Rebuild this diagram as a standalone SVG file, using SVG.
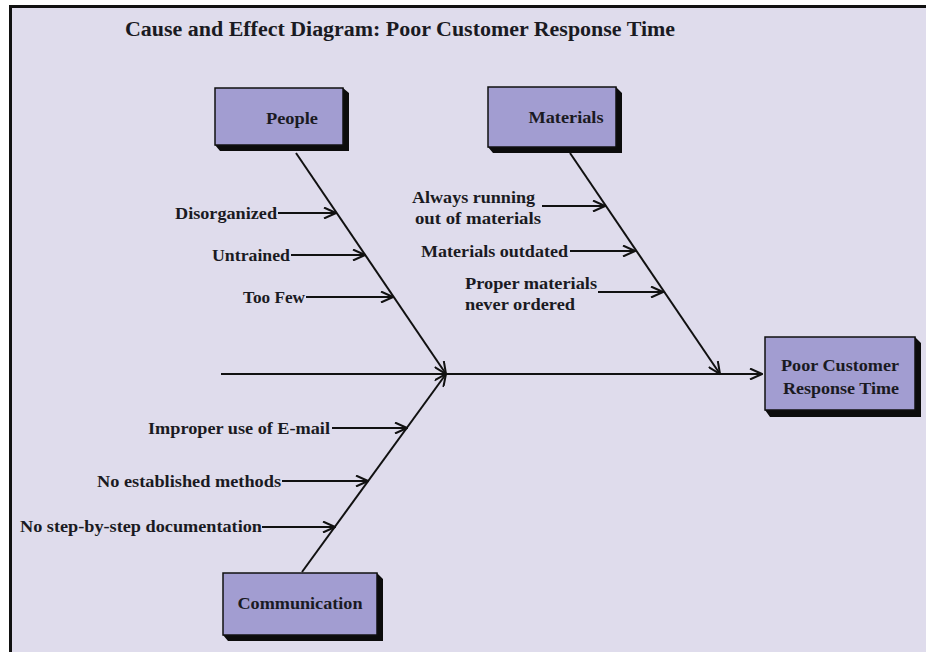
<svg xmlns="http://www.w3.org/2000/svg" width="926" height="652" viewBox="0 0 926 652">
  <defs>
    <marker id="head" viewBox="0 0 14 12" refX="13" refY="6" markerWidth="14" markerHeight="12" markerUnits="userSpaceOnUse" orient="auto">
      <path d="M1,0.5 L13,6 L1,11.5" fill="none" stroke="#111" stroke-width="2"/>
    </marker>
  </defs>
  <style>
    .bone { stroke: #111; stroke-width: 2; fill: none; marker-end: url(#head); }
    .box { fill: #a29dd1; stroke: #111; stroke-width: 1.5; }
    .shadow { fill: #0c0c0c; }
    text { font-family: "Liberation Serif", "DejaVu Serif", serif; font-weight: bold; fill: #1a1a22; }
    .lbl { font-size: 16px; }
    .cause { font-size: 16px; text-anchor: end; }
    .title { font-size: 20px; }
  </style>

  <!-- page frame -->
  <rect x="0" y="0" width="926" height="652" fill="#ffffff"/>
  <rect x="10" y="6" width="916" height="646" fill="#dfdcec"/>
  <rect x="9" y="5" width="917" height="3" fill="#111"/>
  <rect x="9" y="5" width="3" height="647" fill="#111"/>

  <text class="title" x="125" y="36" textLength="550" lengthAdjust="spacingAndGlyphs">Cause and Effect Diagram: Poor Customer Response Time</text>

  <!-- connectors -->
  <g id="connectors">
    <line class="bone" x1="221" y1="374" x2="762" y2="374"/>
    <line class="bone" x1="296" y1="153" x2="446" y2="374"/>
    <line class="bone" x1="570" y1="153" x2="720" y2="374"/>
    <line class="bone" x1="302" y1="572" x2="446" y2="374"/>
    <!-- People causes -->
    <line class="bone" x1="278" y1="213" x2="336" y2="213"/>
    <line class="bone" x1="291" y1="255" x2="365" y2="255"/>
    <line class="bone" x1="306" y1="297" x2="393" y2="297"/>
    <!-- Materials causes -->
    <line class="bone" x1="542" y1="206" x2="605" y2="206"/>
    <line class="bone" x1="570" y1="251" x2="635" y2="251"/>
    <line class="bone" x1="598" y1="292" x2="663" y2="292"/>
    <!-- Communication causes -->
    <line class="bone" x1="332" y1="428" x2="407" y2="428"/>
    <line class="bone" x1="282" y1="481" x2="368" y2="481"/>
    <line class="bone" x1="262" y1="527" x2="335" y2="527"/>
  </g>

  <!-- cause labels -->
  <g id="causes">
    <text class="cause" x="277" y="219" textLength="102" lengthAdjust="spacingAndGlyphs">Disorganized</text>
    <text class="cause" x="290" y="261" textLength="78" lengthAdjust="spacingAndGlyphs">Untrained</text>
    <text class="cause" x="305" y="303" textLength="62" lengthAdjust="spacingAndGlyphs">Too Few</text>
    <text class="lbl" x="412" y="203" textLength="123" lengthAdjust="spacingAndGlyphs">Always running</text>
    <text class="lbl" x="415" y="224" textLength="126" lengthAdjust="spacingAndGlyphs">out of materials</text>
    <text class="lbl" x="421" y="257" textLength="147" lengthAdjust="spacingAndGlyphs">Materials outdated</text>
    <text class="lbl" x="465" y="289" textLength="132" lengthAdjust="spacingAndGlyphs">Proper materials</text>
    <text class="lbl" x="465" y="310" textLength="110" lengthAdjust="spacingAndGlyphs">never ordered</text>
    <text class="cause" x="330" y="434" textLength="182" lengthAdjust="spacingAndGlyphs">Improper use of E-mail</text>
    <text class="cause" x="281" y="487" textLength="184" lengthAdjust="spacingAndGlyphs">No established methods</text>
    <text class="cause" x="262" y="532" textLength="242" lengthAdjust="spacingAndGlyphs">No step-by-step documentation</text>
  </g>

  <!-- category nodes -->
  <g id="people">
    <polygon class="shadow" points="215,145 220,151 349,151 349,93 343,88 343,145"/>
    <rect class="box" x="215" y="88" width="128" height="57"/>
    <text class="lbl" x="292" y="124" text-anchor="middle" textLength="52" lengthAdjust="spacingAndGlyphs">People</text>
  </g>

  <g id="materials">
    <polygon class="shadow" points="488,147 493,153 622,153 622,93 616,87 616,147"/>
    <rect class="box" x="488" y="87" width="128" height="60"/>
    <text class="lbl" x="566" y="123" text-anchor="middle" textLength="75" lengthAdjust="spacingAndGlyphs">Materials</text>
  </g>

  <g id="communication">
    <polygon class="shadow" points="223,635 228,641 383,641 383,579 377,573 377,635"/>
    <rect class="box" x="223" y="573" width="154" height="62"/>
    <text class="lbl" x="300" y="609" text-anchor="middle" textLength="125" lengthAdjust="spacingAndGlyphs">Communication</text>
  </g>

  <!-- effect node -->
  <g id="effect">
    <polygon class="shadow" points="765,410 770,417 921,417 921,343 915,337 915,410"/>
    <rect class="box" x="765" y="337" width="150" height="73"/>
    <text class="lbl" x="840" y="371" text-anchor="middle" textLength="118" lengthAdjust="spacingAndGlyphs">Poor Customer</text>
    <text class="lbl" x="841" y="394" text-anchor="middle" textLength="116" lengthAdjust="spacingAndGlyphs">Response Time</text>
  </g>
</svg>
